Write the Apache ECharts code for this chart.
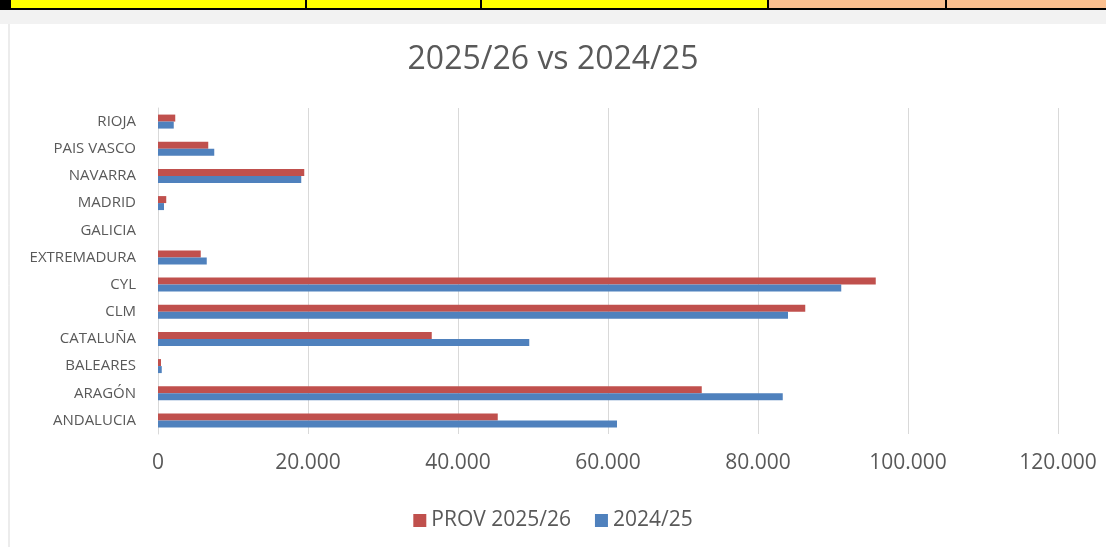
<!DOCTYPE html>
<html><head><meta charset="utf-8">
<style>html,body{margin:0;padding:0;background:#fff}#c{width:1106px;height:547px}</style>
<script src="https://cdn.jsdelivr.net/npm/echarts@6/dist/echarts.min.js"></script>
</head><body><div id="c"></div>
<script>
const categories = ['ANDALUCIA','ARAGÓN','BALEARES','CATALUÑA','CLM','CYL','EXTREMADURA','GALICIA','MADRID','NAVARRA','PAIS VASCO','RIOJA'];
const prov2526 = [45300, 72500, 400, 36500, 86300, 95700, 5700, 0, 1100, 19500, 6700, 2300];
const val2425 = [61200, 83300, 500, 49500, 84000, 91100, 6500, 0, 800, 19100, 7500, 2100];
const xTicks = [0, 20000, 40000, 60000, 80000, 100000, 120000];

const fontFam = '"Open Sans", "Liberation Sans", Arial, sans-serif';
const chart = echarts.init(document.getElementById('c'));
const fmt = v => v === 0 ? '0' : v.toLocaleString('de-DE');
chart.setOption({
  animation: false,
  backgroundColor: '#fff',
  graphic: [
    {type:'rect', shape:{x:0,y:0,width:1106,height:10}, style:{fill:'#000'}},
    {type:'rect', shape:{x:11,y:0,width:294,height:8}, style:{fill:'#FFFF00'}},
    {type:'rect', shape:{x:307,y:0,width:173,height:8}, style:{fill:'#FFFF00'}},
    {type:'rect', shape:{x:482,y:0,width:285,height:8}, style:{fill:'#FFFF00'}},
    {type:'rect', shape:{x:769,y:0,width:176,height:8}, style:{fill:'#FABF8F'}},
    {type:'rect', shape:{x:947,y:0,width:159,height:8}, style:{fill:'#FABF8F'}},
    {type:'rect', shape:{x:0,y:10,width:1106,height:14}, style:{fill:'#F2F2F2'}},
    {type:'rect', shape:{x:9,y:23,width:1110,height:540}, style:{fill:'#fff', stroke:'#D9D9D9', lineWidth:1}, z:-1}
  ],
  title: {
    text: '2025/26 vs 2024/25', left: 'center', top: 39,
    textStyle: {fontFamily: fontFam, fontSize: 32, fontWeight: 'normal', color: '#595959'}
  },
  legend: {
    data: ['PROV 2025/26', '2024/25'], top: 505, left: 'center',
    itemWidth: 13, itemHeight: 13, itemGap: 24, icon: 'rect',
    textStyle: {fontFamily: fontFam, fontSize: 21, color: '#595959'}
  },
  grid: {left: 158, right: 48, top: 108, bottom: 113},
  xAxis: {
    type: 'value', min: 0, max: 120000, interval: 20000,
    axisLine: {show: false}, axisTick: {show: false},
    splitLine: {lineStyle: {color: '#D9D9D9', width: 1}},
    axisLabel: {fontFamily: fontFam, fontSize: 21, color: '#595959', margin: 19,
      formatter: v => xTicks.includes(v) ? fmt(v) : ''}
  },
  yAxis: {
    type: 'category', data: categories,
    axisLine: {show: true, lineStyle: {color: '#D9D9D9'}},
    axisTick: {show: false},
    axisLabel: {fontFamily: fontFam, fontSize: 15, color: '#595959', margin: 22}
  },
  series: [
    {name: 'PROV 2025/26', type: 'bar', data: prov2526, barWidth: 7, barGap: '0%',
     itemStyle: {color: '#C0504D'}},
    {name: '2024/25', type: 'bar', data: val2425, barWidth: 7, barGap: '0%',
     itemStyle: {color: '#4F81BD'}}
  ]
});
</script></body></html>
